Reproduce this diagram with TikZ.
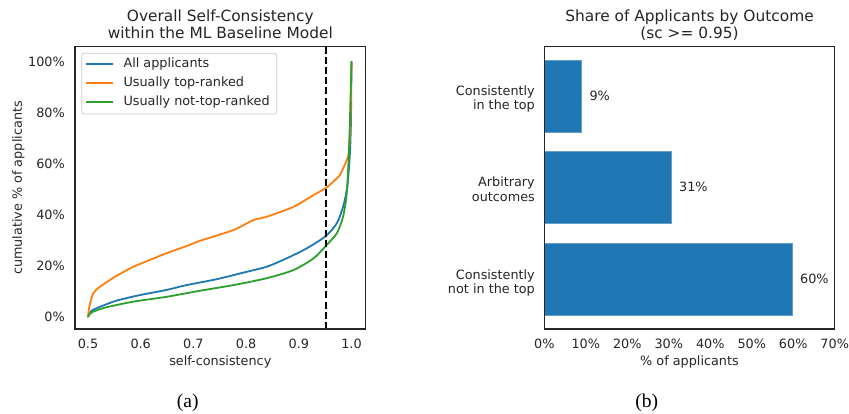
\documentclass[tikz,border=0pt]{standalone}
\usepackage{fontspec}
\setsansfont{DejaVu Sans}
\newfontfamily\capfont{Liberation Serif}
\definecolor{tc}{HTML}{262626}
\definecolor{c0}{HTML}{1F77B4}
\definecolor{c1}{HTML}{FF7F0E}
\definecolor{c2}{HTML}{2CA02C}
\definecolor{legc}{HTML}{CCCCCC}
\begin{document}
\begin{tikzpicture}[x=1pt,y=-1pt,
  lbl/.style={font=\sffamily\fontsize{12.8}{15}\selectfont, text=tc, inner sep=0pt},
  ttl/.style={font=\sffamily\fontsize{15.4}{18}\selectfont, text=tc, inner sep=0pt},
  captxt/.style={font=\capfont\fontsize{19.5}{22}\selectfont, text=black, inner sep=0pt},
  axframe/.style={draw=tc, line width=1.1pt},
  curve/.style={line width=1.8pt, line join=round, line cap=round},
  barbox/.style={fill=c0, draw=c0!70!white, line width=0.8pt},
  thresh/.style={draw=black, line width=2pt, dash pattern=on 7pt off 3.2pt},
]
\useasboundingbox (0,0) rectangle (849,413);
\fill[white] (0,0) rectangle (849,413);

% ---------------- left panel ----------------
\node[ttl, anchor=base] (t1a) at (220.3,21.7) {Overall Self-Consistency};
\node[ttl, anchor=base] (t1b) at (220.3,38.1) {within the ML Baseline Model};

\foreach \p in {0,20,40,60,80,100}
  \node[lbl, anchor=east] (yt\p) at (65,{316.7-2.55*\p}) {\p\%};
\foreach \k/\lab in {0/0.5,1/0.6,2/0.7,3/0.8,4/0.9,5/1.0}
  \node[lbl, anchor=base] (xt\k) at ({88+52.7*\k},348.3) {\lab};
\node[lbl, anchor=base] (xlab) at (220.3,365) {self-consistency};
\node[lbl, rotate=90] (ylab) at (18.3,188) {cumulative \% of applicants};

\begin{scope}[xshift=-175.5pt, yshift=-316.7pt, x=527pt, y=2.55pt]
  \draw[curve, c0] plot[smooth, tension=0.45] coordinates {
    (0.5,0) (0.503,1.3) (0.507,2.4) (0.515,3.2) (0.523,3.9) (0.554,6.3)
    (0.599,8.5) (0.649,10.5) (0.687,12.4) (0.744,14.7) (0.795,17.3)
    (0.839,19.6) (0.877,22.9) (0.915,26.8) (0.951,31.6) (0.972,36.6)
    (0.984,43.1) (0.992,51) (0.997,64) (0.999,77) (1.0,100)};
  \draw[curve, c1] plot[smooth, tension=0.45] coordinates {
    (0.5,0) (0.5025,3.9) (0.510,9.2) (0.523,11.8) (0.554,16) (0.586,19.6)
    (0.605,21.2) (0.649,24.9) (0.687,27.7) (0.713,29.8) (0.776,34.0)
    (0.814,37.9) (0.839,39.2) (0.890,43.1) (0.928,47.7) (0.951,50.4)
    (0.965,52.9) (0.978,55.6) (0.991,61.5) (0.995,64.7) (0.998,77) (1.0,100)};
  \draw[curve, c2] plot[smooth, tension=0.45] coordinates {
    (0.5,0) (0.503,1.0) (0.510,2) (0.535,3.7) (0.586,5.9) (0.649,7.8)
    (0.713,10.2) (0.776,12.4) (0.839,15.1) (0.890,18.3) (0.928,22.9)
    (0.951,27.7) (0.972,32.7) (0.984,39.2) (0.991,48.4) (0.995,64)
    (0.997,77) (1.0,100)};
\end{scope}

\coordinate (thtop) at (325.7,46.5);
\coordinate (thbot) at (325.7,329);
\draw[thresh] (thtop) -- (thbot);

\draw[axframe] (75,46.5) rectangle (365.7,329);

% legend
\draw[draw=legc, fill=white, fill opacity=0.8, rounded corners=2.5pt, line width=0.8pt]
  (81.7,53.3) rectangle (276.7,114);
\draw[curve, c0, line cap=butt] (86,64) -- (113.3,64);
\draw[curve, c1, line cap=butt] (86,83) -- (113.3,83);
\draw[curve, c2, line cap=butt] (86,102) -- (113.3,102);
\node[lbl, anchor=base west] (lg1) at (123.3,67.7) {All applicants};
\node[lbl, anchor=base west] (lg2) at (123.3,86.7) {Usually top-ranked};
\node[lbl, anchor=base west] (lg3) at (123.3,105.7) {Usually not-top-ranked};

\node[captxt, anchor=base] (capa) at (187.7,407.5) {(a)};

% ---------------- right panel ----------------
\node[ttl, anchor=base] (t2a) at (689.5,21.7) {Share of Applicants by Outcome};
\node[ttl, anchor=base] (t2b) at (689.5,38.1) {(sc >= 0.95)};

\draw[barbox] (544.3,60) rectangle (581.7,132);
\draw[barbox] (544.3,151.8) rectangle (671.3,223.8);
\draw[barbox] (544.3,243.7) rectangle (792.3,315.7);

\draw[axframe] (544.3,46.5) rectangle (834.7,329);

\node[lbl, anchor=base west] (v1) at (589.3,100) {9\%};
\node[lbl, anchor=base west] (v2) at (679,191.8) {31\%};
\node[lbl, anchor=base west] (v3) at (800,283.8) {60\%};

\node[lbl, anchor=base east] (c1a) at (535,95) {Consistently};
\node[lbl, anchor=base east] (c1b) at (535,109.3) {in the top};
\node[lbl, anchor=base east] (c2a) at (535,186.8) {Arbitrary};
\node[lbl, anchor=base east] (c2b) at (535,201.1) {outcomes};
\node[lbl, anchor=base east] (c3a) at (535,279.3) {Consistently};
\node[lbl, anchor=base east] (c3b) at (535,293.6) {not in the top};

\foreach \k in {0,...,7}{
  \pgfmathtruncatemacro\v{10*\k}
  \node[lbl, anchor=base] (bx\k) at ({544.3+41.486*\k},348.3) {\v\%};
}
\node[lbl, anchor=base] (xlab2) at (689.5,365) {\% of applicants};

\node[captxt, anchor=base] (capb) at (646.7,407.5) {(b)};
\end{tikzpicture}
\end{document}
